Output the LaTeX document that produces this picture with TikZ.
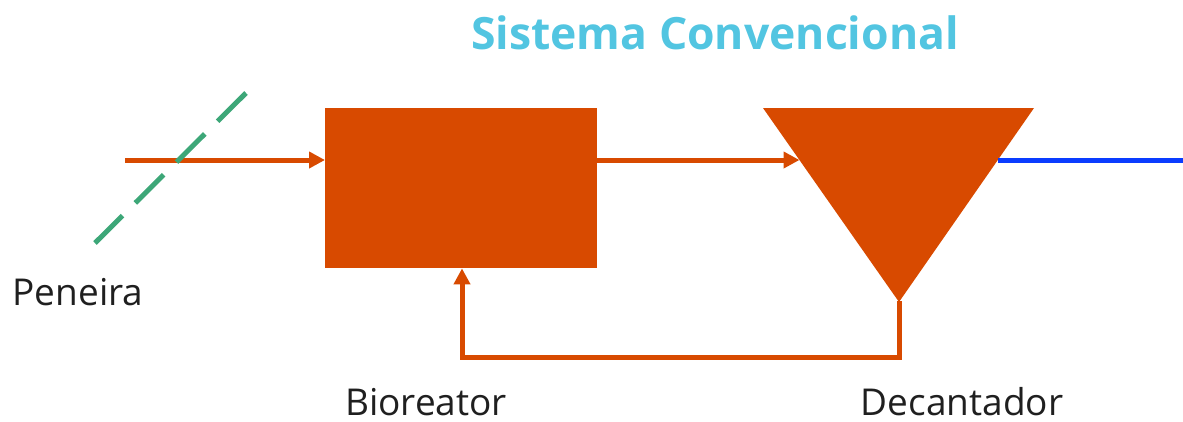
\documentclass[tikz,border=0pt]{standalone}
\usepackage{fontspec}
\setmainfont{Open Sans}
\usepackage{xcolor}
\usetikzlibrary{positioning,calc,arrows.meta}

\definecolor{sludge}{HTML}{D84A00}
\definecolor{screen}{HTML}{3DA778}
\definecolor{effluent}{HTML}{0A3CFF}
\definecolor{titleblue}{HTML}{52C5E1}

\tikzset{
  flow/.style={draw=sludge, line width=5pt, -{Triangle[length=16pt,width=16pt]}},
  label/.style={font=\fontsize{37}{44}\selectfont, text=black!88, inner sep=0pt, anchor=base}
}

\begin{document}
\begin{tikzpicture}[x=1pt,y=-1pt]
    \useasboundingbox (0,0) rectangle (1183,421);

    % Title
    \node[font=\fontsize{44.5}{52}\selectfont\bfseries, text=titleblue, inner sep=0pt, anchor=base] (title) at (715,49) {Sistema Convencional};

    % Bioreactor
    \node[fill=sludge, minimum width=272pt, minimum height=160pt, inner sep=0pt, anchor=north west] (bio) at (325,108) {};

    % Decanter (triangle)
    \fill[sludge] (763,108) -- (1034,108) -- (899,302) -- cycle;
    \coordinate (decin) at (799.5,160);
    \coordinate (decout) at (997.5,160);
    \coordinate (decbot) at (899,301);
    \coordinate (effend) at (1183,160);

    % Feed and screen
    \coordinate (feed) at (125,160);
    \coordinate (scrA) at (246,93);
    \coordinate (scrB) at (95,243);
    \draw[flow] (feed) -- (feed -| bio.west);
    \draw[screen, line width=5pt, dash pattern=on 40pt off 18pt] (scrA) -- (scrB);

    % Bioreactor to decanter
    \draw[flow] (bio.east |- decin) -- (decin);

    % Effluent
    \draw[effluent, line width=5pt] (decout) -- (effend);

    % Sludge return
    \coordinate (ret) at (462,357);
    \draw[flow] (decbot) -- (decbot |- ret) -- (ret) -- (ret |- bio.south);

    % Labels
    \node[label] (peneira) at (78,305) {Peneira};
    \node[label] (biolab) at (426,415) {Bioreator};
    \node[label] (declab) at (962,415) {Decantador};
\end{tikzpicture}
\end{document}
